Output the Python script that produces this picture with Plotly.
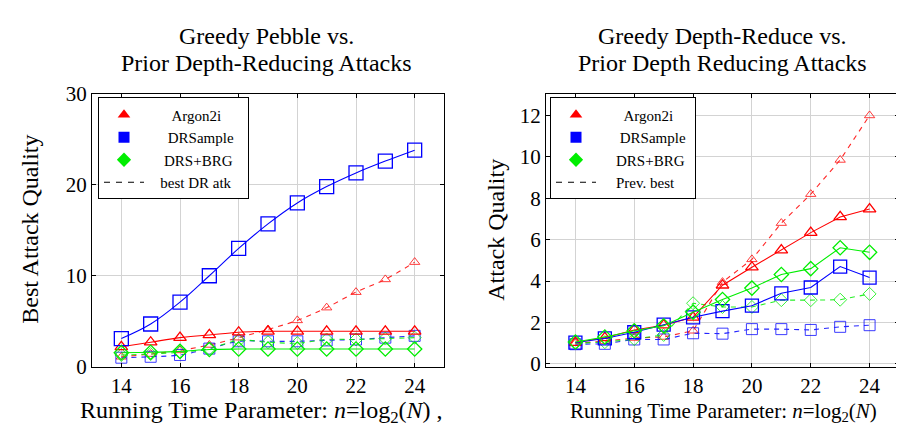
import plotly.graph_objects as go

# ---------------- data ----------------
n_vals = [14, 15, 16, 17, 18, 19, 20, 21, 22, 23, 24]

# Left panel: Greedy Pebble vs prior depth-reducing attacks
left_argon = [2.2, 2.7, 3.2, 3.5, 3.8, 3.9, 3.9, 3.9, 3.9, 3.9, 3.9]
left_drs = [3.1, 4.7, 7.1, 10.0, 13.0, 15.7, 18.0, 19.8, 21.3, 22.6, 23.8]
left_brg = [1.55, 1.6, 1.7, 1.9, 1.95, 1.95, 1.95, 1.95, 1.95, 1.95, 1.95]
left_argon_prev = [1.1, 1.4, 1.8, 2.4, 3.2, 4.1, 5.1, 6.5, 8.2, 9.6, 11.5]
left_drs_prev = [1.0, 1.1, 1.3, 2.0, 2.8, 2.8, 2.8, 2.9, 3.0, 3.2, 3.4]
left_brg_prev = [1.3, 1.4, 1.6, 2.0, 2.9, 2.7, 2.6, 3.0, 3.0, 3.1, 3.2]

# Right panel: Greedy Depth-Reduce vs prior depth reducing attacks
right_argon = [1.03, 1.26, 1.64, 1.87, 2.25, 3.8, 4.67, 5.5, 6.34, 7.1, 7.48]
right_drs = [1.03, 1.23, 1.53, 1.9, 2.25, 2.55, 2.81, 3.41, 3.69, 4.7, 4.17]
right_brg = [1.06, 1.3, 1.6, 1.84, 2.5, 3.11, 3.66, 4.32, 4.6, 5.61, 5.39]
right_argon_prev = [1.0, 1.1, 1.25, 1.3, 1.6, 3.95, 5.05, 6.8, 8.2, 9.85, 12.0]
right_drs_prev = [0.95, 0.97, 1.18, 1.18, 1.48, 1.46, 1.68, 1.68, 1.64, 1.79, 1.87]
right_brg_prev = [1.0, 1.05, 1.2, 1.4, 2.93, 2.75, 2.75, 3.08, 3.08, 3.1, 3.38]

x_ticks = [14, 16, 18, 20, 22, 24]
left_y_ticks = [0, 10, 20, 30]
right_y_ticks = [0, 2, 4, 6, 8, 10, 12]

NB = "\u00a0"
legend_names = [NB * 6 + "Argon2i", NB * 5 + "DRSample", NB * 4 + "DRS+BRG"]
left_dash_name = NB * 3 + "best DR atk" + NB * 3
right_dash_name = NB * 4 + "Prev. best" + NB * 4

RED, BLUE, GREEN = "#ff0000", "#0000ff", "#00ee00"
SERIF = "Liberation Serif"

fig = go.Figure()

def add_series(xa, ya, y, color, sym, size, dashed, shape):
    fig.add_trace(go.Scatter(
        x=n_vals, y=y, xaxis=xa, yaxis=ya, mode="lines+markers",
        line=dict(color=color, width=1.1, dash="5px,5px" if dashed else "solid", shape=shape),
        marker=dict(symbol=sym, size=size, color=color,
                    line=dict(color=color, width=0.9 if dashed else 1.3)),
        opacity=0.85 if dashed else 1.0,
        showlegend=False, hoverinfo="skip"))

# left panel
add_series("x", "y", left_argon_prev, RED, "triangle-up-open", 9, True, "spline")
add_series("x", "y", left_drs_prev, BLUE, "square-open", 11, True, "spline")
add_series("x", "y", left_brg_prev, GREEN, "diamond-open", 10, True, "spline")
add_series("x", "y", left_argon, RED, "triangle-up-open", 11, False, "spline")
add_series("x", "y", left_drs, BLUE, "square-open", 14, False, "spline")
add_series("x", "y", left_brg, GREEN, "diamond-open", 11, False, "spline")

# right panel
add_series("x2", "y2", right_argon_prev, RED, "triangle-up-open", 9, True, "linear")
add_series("x2", "y2", right_drs_prev, BLUE, "square-open", 11, True, "linear")
add_series("x2", "y2", right_brg_prev, GREEN, "diamond-open", 10, True, "linear")
add_series("x2", "y2", right_argon, RED, "triangle-up-open", 11, False, "linear")
add_series("x2", "y2", right_drs, BLUE, "square-open", 13, False, "linear")
add_series("x2", "y2", right_brg, GREEN, "diamond-open", 11, False, "linear")

# legend-only traces
for lg, xa, ya, dname in [("legend", "x", "y", left_dash_name), ("legend2", "x2", "y2", right_dash_name)]:
    for name, color, sym in zip(legend_names, [RED, BLUE, GREEN], ["triangle-up", "square", "diamond"]):
        fig.add_trace(go.Scatter(x=[None], y=[None], xaxis=xa, yaxis=ya, mode="markers",
                                 marker=dict(symbol=sym, size=11, color=color),
                                 name=name, legend=lg))
    fig.add_trace(go.Scatter(x=[None], y=[None], xaxis=xa, yaxis=ya, mode="lines",
                             line=dict(color="black", width=1.2, dash="6px,6px"),
                             name=dname, legend=lg))

W, H = 904, 436
def px_x(p):
    return p / W
def px_y(p):
    return 1 - p / H

axis_common = dict(showline=True, linecolor="black", linewidth=1, mirror="ticks",
                   ticks="inside", ticklen=4, tickcolor="black",
                   showgrid=True, gridcolor="#d3d3d3", gridwidth=1, zeroline=False,
                   tickfont=dict(family=SERIF, size=21, color="black"))

legend_common = dict(xanchor="left", yanchor="top",
                     bordercolor="black", borderwidth=1, bgcolor="white",
                     font=dict(family=SERIF, size=15, color="black"), tracegroupgap=0,
                     itemwidth=40)

fig.update_layout(
    width=W, height=H, margin=dict(l=0, r=0, t=0, b=0),
    plot_bgcolor="white", paper_bgcolor="white",
    xaxis=dict(domain=[px_x(84), px_x(436)], range=[13, 25], tickvals=x_ticks, anchor="y", **axis_common),
    yaxis=dict(domain=[px_y(367), px_y(78)], range=[0, 30], tickvals=left_y_ticks, anchor="x", **axis_common),
    xaxis2=dict(domain=[px_x(538), px_x(891)], range=[13, 25], tickvals=x_ticks, anchor="y2", **axis_common),
    yaxis2=dict(domain=[px_y(367), px_y(78)], range=[-0.14, 13.05], tickvals=right_y_ticks, anchor="x2", **axis_common),
    legend=dict(x=px_x(90), y=px_y(82), **legend_common),
    legend2=dict(x=px_x(542), y=px_y(82), **legend_common),
    showlegend=True,
)

ann_font = dict(family=SERIF, size=24, color="black")
annotations = [
    dict(text="Greedy Pebble vs.", x=px_x(258), y=px_y(17), size=24, xanchor="center"),
    dict(text="Prior Depth-Reducing Attacks", x=px_x(258), y=px_y(45), size=24, xanchor="center"),
    dict(text="Greedy Depth-Reduce vs.", x=px_x(714), y=px_y(17), size=24, xanchor="center"),
    dict(text="Prior Depth Reducing Attacks", x=px_x(714), y=px_y(45), size=24, xanchor="center"),
    dict(text="Running Time Parameter: <i>n</i>=log<sub>2</sub>(<i>N</i>) ,", x=px_x(253), y=px_y(415),
         size=24, xanchor="center"),
    dict(text="Running Time Parameter: <i>n</i>=log<sub>2</sub>(<i>N</i>)", x=px_x(560), y=px_y(415),
         size=21, xanchor="left"),
]
for a in annotations:
    sz = a.pop("size")
    fig.add_annotation(xref="paper", yref="paper", showarrow=False,
                       font=dict(family=SERIF, size=sz, color="black"),
                       yanchor="middle", **a)
fig.add_annotation(text="Best Attack Quality", xref="paper", yref="paper", x=px_x(22), y=px_y(222),
                   textangle=-90, showarrow=False, font=ann_font, xanchor="center", yanchor="middle")
fig.add_annotation(text="Attack Quality", xref="paper", yref="paper", x=px_x(488), y=px_y(222),
                   textangle=-90, showarrow=False, font=ann_font, xanchor="center", yanchor="middle")

fig.write_html("out.html")
